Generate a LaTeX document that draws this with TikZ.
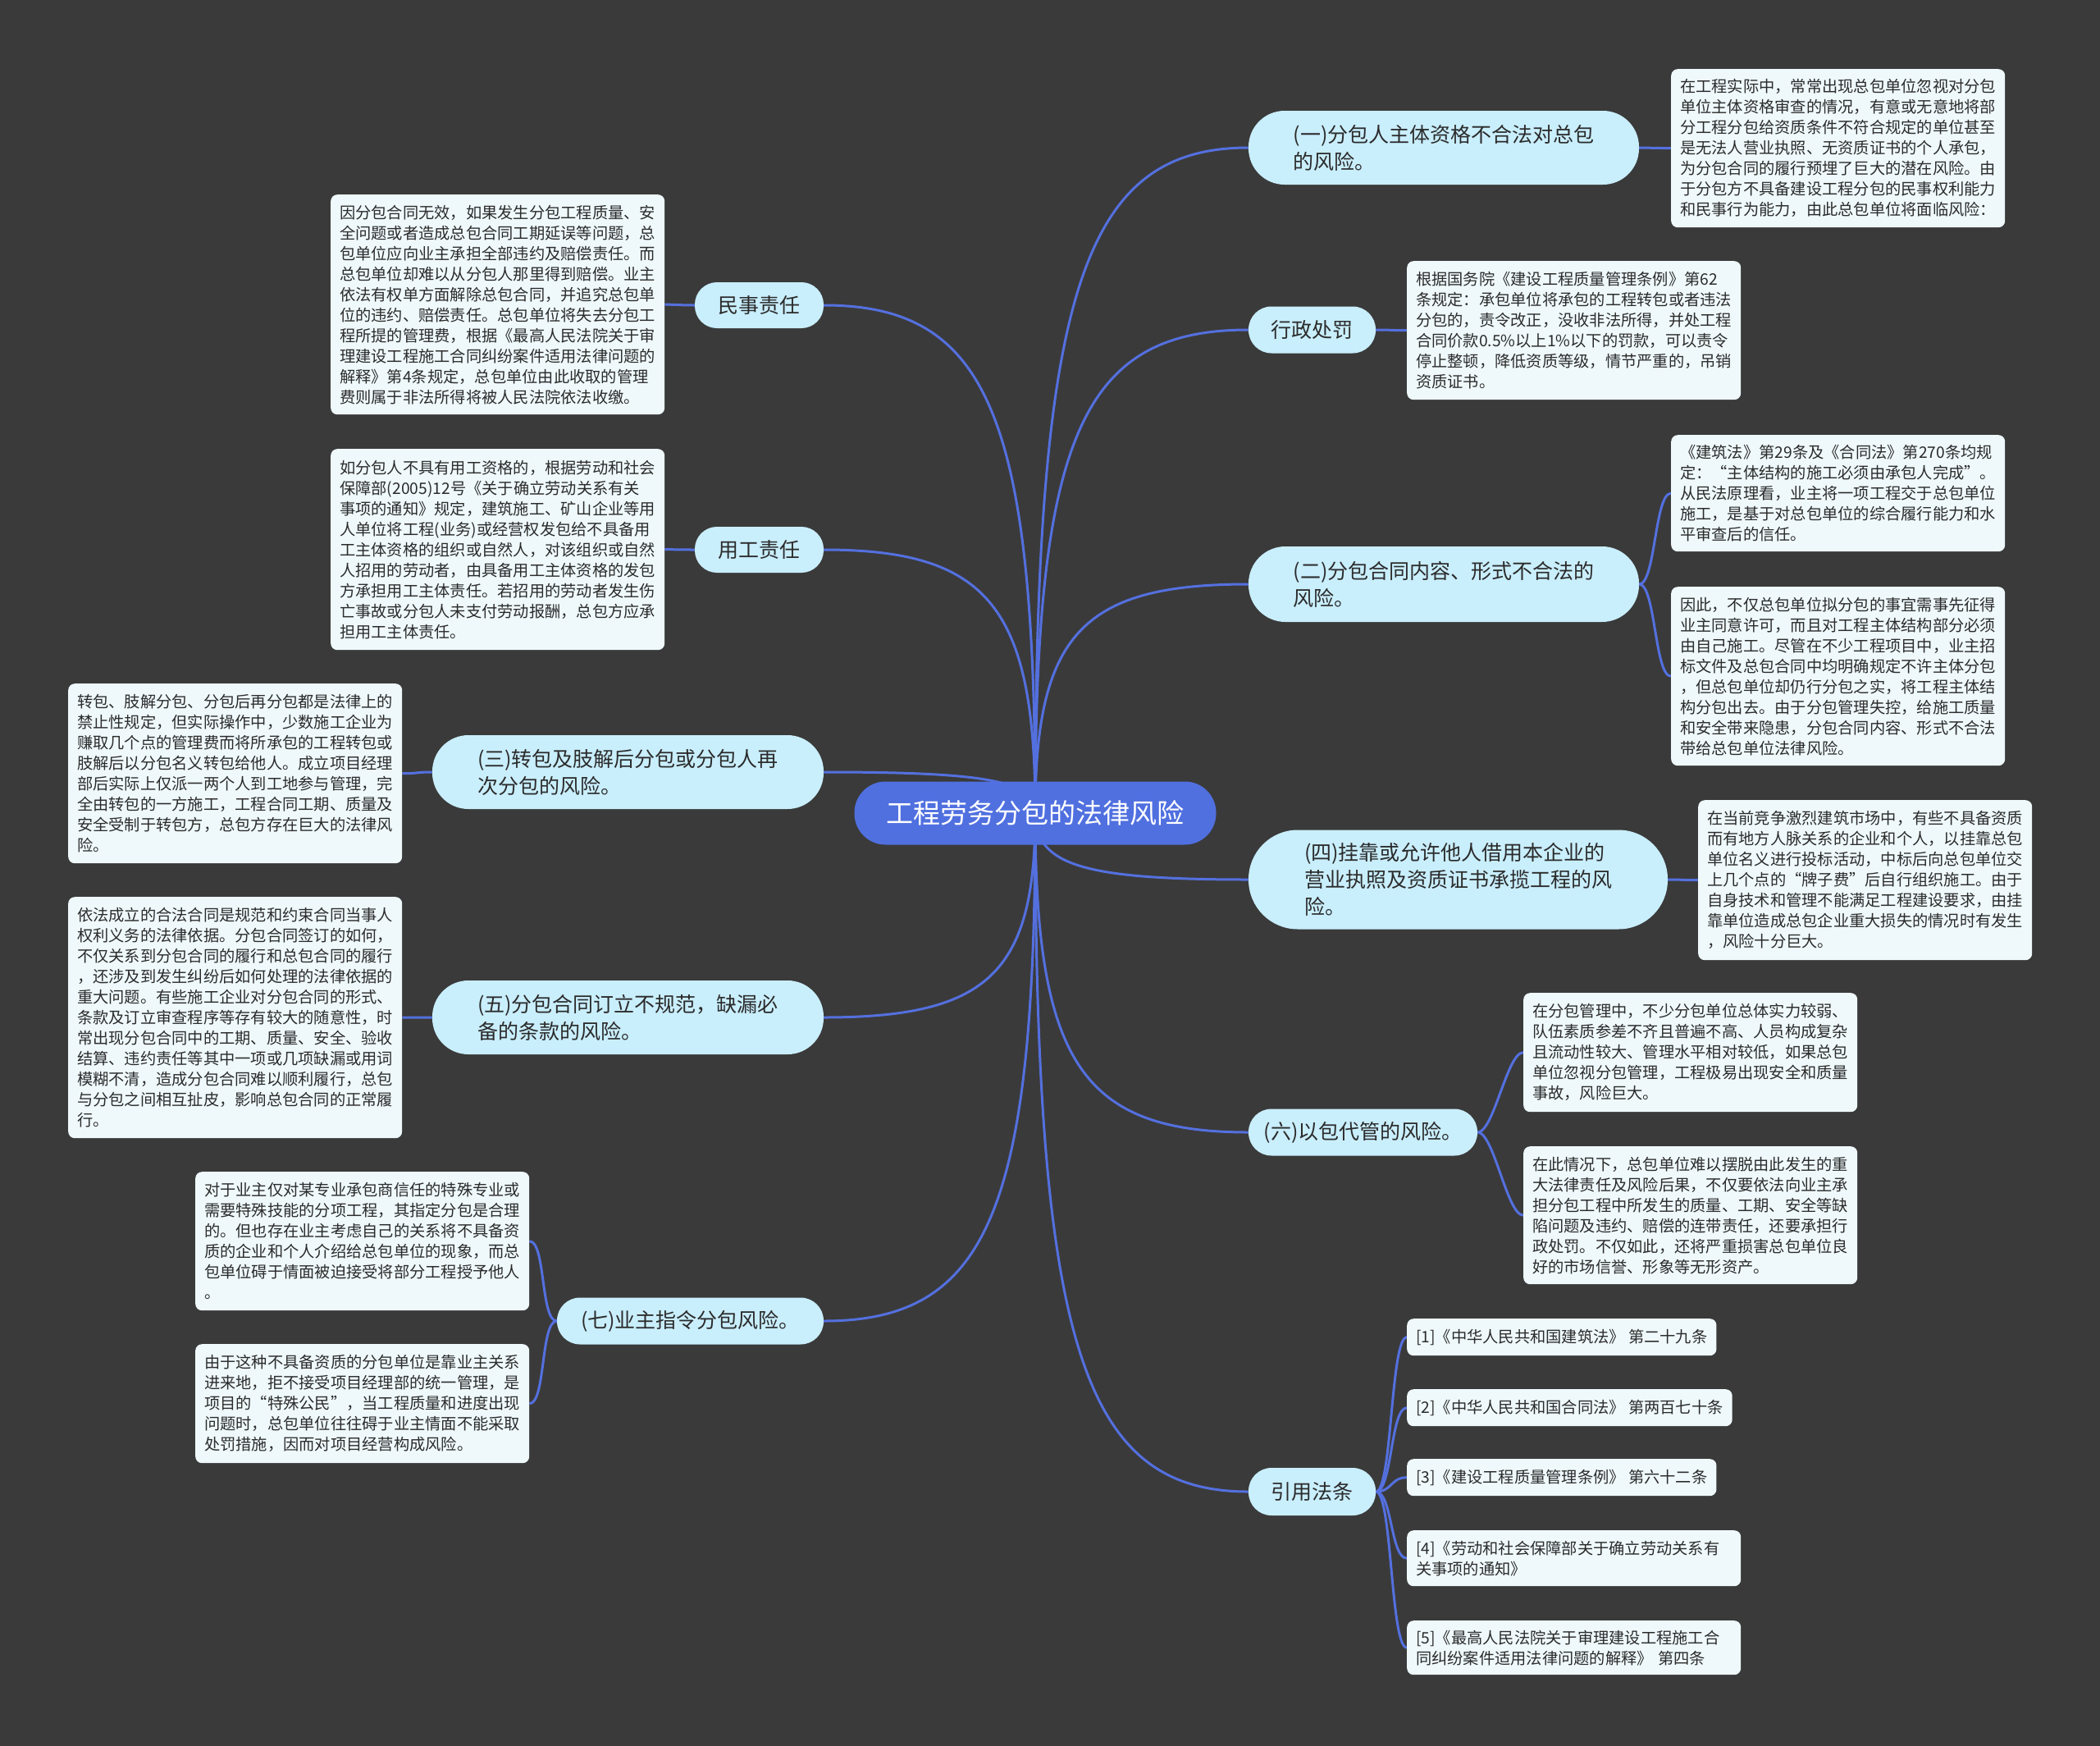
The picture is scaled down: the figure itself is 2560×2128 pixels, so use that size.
\documentclass[tikz,border=0pt]{standalone}
\usepackage{fontspec}
\setmainfont{Noto Sans CJK SC}
\usetikzlibrary{calc}
\pgfdeclarelayer{back}
\pgfsetlayers{back,main}
\definecolor{bgc}{HTML}{3A3A3A}
\definecolor{rootblue}{HTML}{5070E0}
\definecolor{linkblue}{HTML}{5470DF}
\definecolor{topicfill}{HTML}{C9EEFC}
\definecolor{leaffill}{HTML}{EFF9FC}
\definecolor{txtdark}{HTML}{2B2B2B}
\tikzset{
  root/.style={fill=rootblue, text=white, rounded corners=38, minimum width=441, minimum height=77, inner sep=0, font=\fontsize{33}{40}\selectfont},
  topic/.style={fill=topicfill, text=txtdark, align=left, inner sep=0, font=\fontsize{25}{33}\selectfont},
  leaf/.style={fill=leaffill, text=txtdark, align=left, rounded corners=8, inner xsep=11, inner ysep=0, anchor=north west, font=\fontsize{19.25}{25}\selectfont},
  leafw/.style={leaf, text width=385},
  link/.style={draw=linkblue, line width=3},
}
\begin{document}
\begin{tikzpicture}[x=1pt,y=-1pt]
\useasboundingbox (0,0) rectangle (2560,2128);
% root
\node[root] (c) at (1262,991) {工程劳务分包的法律风险};
% right topics
\node[topic, minimum width=476, minimum height=90, rounded corners=44] (n1) at (1760,180) {(一)分包人主体资格不合法对总包\\的风险。};
\node[topic, minimum width=155, minimum height=57, rounded corners=28] (nx) at (1599.5,402) {行政处罚};
\node[topic, minimum width=476, minimum height=92, rounded corners=45] (n2) at (1760,712) {(二)分包合同内容、形式不合法的\\风险。};
\node[topic, minimum width=511, minimum height=121, rounded corners=60] (n4) at (1777.5,1072) {(四)挂靠或允许他人借用本企业的\\营业执照及资质证书承揽工程的风\\险。};
\node[topic, minimum width=279, minimum height=57, rounded corners=28] (n6) at (1661.5,1380) {(六)以包代管的风险。};
\node[topic, minimum width=155, minimum height=58, rounded corners=28] (nr) at (1599.5,1818) {引用法条};
% left topics
\node[topic, minimum width=157, minimum height=56, rounded corners=27] (nm) at (925.5,372) {民事责任};
\node[topic, minimum width=157, minimum height=56, rounded corners=27] (ny) at (925.5,670) {用工责任};
\node[topic, minimum width=477, minimum height=90, rounded corners=44] (n3) at (765.5,941) {(三)转包及肢解后分包或分包人再\\次分包的风险。};
\node[topic, minimum width=477, minimum height=90, rounded corners=44] (n5) at (765.5,1240) {(五)分包合同订立不规范，缺漏必\\备的条款的风险。};
\node[topic, minimum width=325, minimum height=57, rounded corners=28] (n7) at (841.5,1610) {(七)业主指令分包风险。};
% right leaves
\node[leafw, minimum height=193] (l1) at (2037,84) {在工程实际中，常常出现总包单位忽视对分包\\单位主体资格审查的情况，有意或无意地将部\\分工程分包给资质条件不符合规定的单位甚至\\是无法人营业执照、无资质证书的个人承包，\\为分包合同的履行预埋了巨大的潜在风险。由\\于分包方不具备建设工程分包的民事权利能力\\和民事行为能力，由此总包单位将面临风险：};
\node[leafw, minimum height=169] (lx) at (1715,318) {根据国务院《建设工程质量管理条例》第62\\条规定：承包单位将承包的工程转包或者违法\\分包的，责令改正，没收非法所得，并处工程\\合同价款0.5\%以上1\%以下的罚款，可以责令\\停止整顿，降低资质等级，情节严重的，吊销\\资质证书。};
\node[leafw, minimum height=142] (l2a) at (2037,530) {《建筑法》第29条及《合同法》第270条均规\\定：“主体结构的施工必须由承包人完成”。\\从民法原理看，业主将一项工程交于总包单位\\施工，是基于对总包单位的综合履行能力和水\\平审查后的信任。};
\node[leafw, minimum height=218] (l2b) at (2037,715) {因此，不仅总包单位拟分包的事宜需事先征得\\业主同意许可，而且对工程主体结构部分必须\\由自己施工。尽管在不少工程项目中，业主招\\标文件及总包合同中均明确规定不许主体分包\\，但总包单位却仍行分包之实，将工程主体结\\构分包出去。由于分包管理失控，给施工质量\\和安全带来隐患，分包合同内容、形式不合法\\带给总包单位法律风险。};
\node[leafw, minimum height=195] (l4) at (2070,975) {在当前竞争激烈建筑市场中，有些不具备资质\\而有地方人脉关系的企业和个人，以挂靠总包\\单位名义进行投标活动，中标后向总包单位交\\上几个点的“牌子费”后自行组织施工。由于\\自身技术和管理不能满足工程建设要求，由挂\\靠单位造成总包企业重大损失的情况时有发生\\，风险十分巨大。};
\node[leafw, minimum height=145] (l6a) at (1857,1210) {在分包管理中，不少分包单位总体实力较弱、\\队伍素质参差不齐且普遍不高、人员构成复杂\\且流动性较大、管理水平相对较低，如果总包\\单位忽视分包管理，工程极易出现安全和质量\\事故，风险巨大。};
\node[leafw, minimum height=168] (l6b) at (1857,1397) {在此情况下，总包单位难以摆脱由此发生的重\\大法律责任及风险后果，不仅要依法向业主承\\担分包工程中所发生的质量、工期、安全等缺\\陷问题及违约、赔偿的连带责任，还要承担行\\政处罚。不仅如此，还将严重损害总包单位良\\好的市场信誉、形象等无形资产。};
\node[leaf, minimum height=45] (r1) at (1715,1607) {[1]《中华人民共和国建筑法》 第二十九条};
\node[leaf, minimum height=45] (r2) at (1715,1693) {[2]《中华人民共和国合同法》 第两百七十条};
\node[leaf, minimum height=45] (r3) at (1715,1778) {[3]《建设工程质量管理条例》 第六十二条};
\node[leafw, minimum height=68] (r4) at (1715,1865) {[4]《劳动和社会保障部关于确立劳动关系有\\关事项的通知》};
\node[leafw, minimum height=66] (r5) at (1715,1975) {[5]《最高人民法院关于审理建设工程施工合\\同纠纷案件适用法律问题的解释》 第四条};
% left leaves
\node[leafw, minimum height=268] (lm) at (403,237) {因分包合同无效，如果发生分包工程质量、安\\全问题或者造成总包合同工期延误等问题，总\\包单位应向业主承担全部违约及赔偿责任。而\\总包单位却难以从分包人那里得到赔偿。业主\\依法有权单方面解除总包合同，并追究总包单\\位的违约、赔偿责任。总包单位将失去分包工\\程所提的管理费，根据《最高人民法院关于审\\理建设工程施工合同纠纷案件适用法律问题的\\解释》第4条规定，总包单位由此收取的管理\\费则属于非法所得将被人民法院依法收缴。};
\node[leafw, minimum height=245] (ly) at (403,547) {如分包人不具有用工资格的，根据劳动和社会\\保障部(2005)12号《关于确立劳动关系有关\\事项的通知》规定，建筑施工、矿山企业等用\\人单位将工程(业务)或经营权发包给不具备用\\工主体资格的组织或自然人，对该组织或自然\\人招用的劳动者，由具备用工主体资格的发包\\方承担用工主体责任。若招用的劳动者发生伤\\亡事故或分包人未支付劳动报酬，总包方应承\\担用工主体责任。};
\node[leafw, minimum height=219] (l3) at (83,833) {转包、肢解分包、分包后再分包都是法律上的\\禁止性规定，但实际操作中，少数施工企业为\\赚取几个点的管理费而将所承包的工程转包或\\肢解后以分包名义转包给他人。成立项目经理\\部后实际上仅派一两个人到工地参与管理，完\\全由转包的一方施工，工程合同工期、质量及\\安全受制于转包方，总包方存在巨大的法律风\\险。};
\node[leafw, minimum height=294] (l5) at (83,1093) {依法成立的合法合同是规范和约束合同当事人\\权利义务的法律依据。分包合同签订的如何，\\不仅关系到分包合同的履行和总包合同的履行\\，还涉及到发生纠纷后如何处理的法律依据的\\重大问题。有些施工企业对分包合同的形式、\\条款及订立审查程序等存有较大的随意性，时\\常出现分包合同中的工期、质量、安全、验收\\结算、违约责任等其中一项或几项缺漏或用词\\模糊不清，造成分包合同难以顺利履行，总包\\与分包之间相互扯皮，影响总包合同的正常履\\行。};
\node[leafw, minimum height=169] (l7a) at (238,1428) {对于业主仅对某专业承包商信任的特殊专业或\\需要特殊技能的分项工程，其指定分包是合理\\的。但也存在业主考虑自己的关系将不具备资\\质的企业和个人介绍给总包单位的现象，而总\\包单位碍于情面被迫接受将部分工程授予他人\\。};
\node[leafw, minimum height=145] (l7b) at (238,1638) {由于这种不具备资质的分包单位是靠业主关系\\进来地，拒不接受项目经理部的统一管理，是\\项目的“特殊公民”，当工程质量和进度出现\\问题时，总包单位往往碍于业主情面不能采取\\处罚措施，因而对项目经营构成风险。};
% background and connectors
\begin{pgfonlayer}{back}
\fill[bgc] (0,0) rectangle (2560,2128);
\foreach \n in {n1,nx,n2,n4,n6,nr}{
  \coordinate (k) at (c.center |- \n.west);
  \draw[link] (c.center) .. controls ($(c.center)!0.78!(k)$) and ($(\n.west)!0.78!(k)$) .. (\n.west);
}
\foreach \n in {nm,ny,n3,n5,n7}{
  \coordinate (k) at (c.center |- \n.east);
  \draw[link] (c.center) .. controls ($(c.center)!0.78!(k)$) and ($(\n.east)!0.78!(k)$) .. (\n.east);
}
\foreach \a/\b in {n1/l1,nx/lx,n2/l2a,n2/l2b,n4/l4,n6/l6a,n6/l6b,nr/r1,nr/r2,nr/r3,nr/r4,nr/r5}
  \draw[link] (\a.east) .. controls +(20,0) and +(-20,0) .. (\b.west);
\foreach \a/\b in {nm/lm,ny/ly,n3/l3,n5/l5,n7/l7a,n7/l7b}
  \draw[link] (\a.west) .. controls +(-20,0) and +(20,0) .. (\b.east);
\end{pgfonlayer}
\end{tikzpicture}
\end{document}
